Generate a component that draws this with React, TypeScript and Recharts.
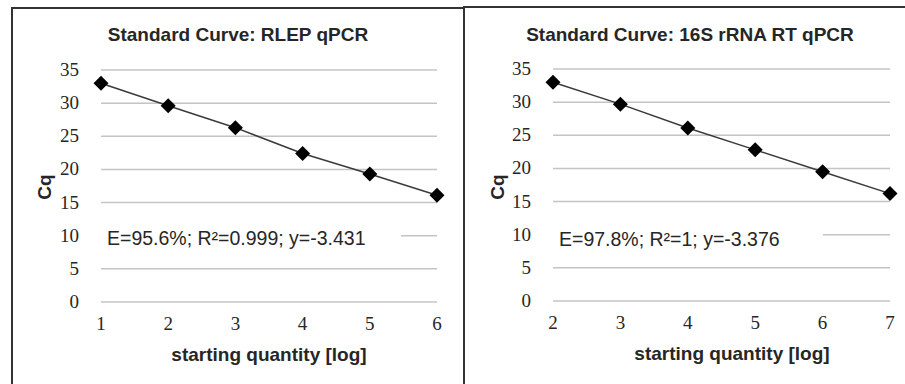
import React from 'react';
import { LineChart, Line, XAxis, YAxis, CartesianGrid } from 'recharts';

// RLEP qPCR standard curve
const rlepLog = [1, 2, 3, 4, 5, 6];
const rlepCq = [33.0, 29.6, 26.3, 22.4, 19.3, 16.1];

// 16S rRNA RT qPCR standard curve
const rrnaLog = [2, 3, 4, 5, 6, 7];
const rrnaCq = [33.0, 29.7, 26.1, 22.8, 19.5, 16.2];

const cqTicks = [0, 5, 10, 15, 20, 25, 30, 35];

const SANS = "Arial, 'Liberation Sans', sans-serif";
const SERIF = "'Liberation Serif', 'Times New Roman', serif";
const TEXT = '#262626';

const Diamond = (props: any) => {
  const { cx, cy, index } = props;
  if (cx == null || cy == null) return null;
  const r = 7.5;
  return (
    <polygon
      key={`d-${index}`}
      points={`${cx},${cy - r} ${cx + r},${cy} ${cx},${cy + r} ${cx - r},${cy}`}
      fill="#000"
    />
  );
};

const XTick = ({ x, y, payload }: any) => (
  <text x={x} y={y + 20} textAnchor="middle" style={{ fontFamily: SERIF, fontSize: 19, fill: TEXT }}>
    {payload.value}
  </text>
);

const YTick = ({ x, y, payload }: any) => (
  <text x={x - 14} y={y + 6} textAnchor="end" style={{ fontFamily: SERIF, fontSize: 19, fill: TEXT }}>
    {payload.value}
  </text>
);

interface CurveProps {
  xs: number[];
  ys: number[];
  left: number;
  width: number;
  margin: { top: number; right: number; left: number; bottom: number };
}

function Curve({ xs, ys, left, width, margin }: CurveProps) {
  const data = xs.map((x, i) => ({ x, cq: ys[i] }));
  return (
    <div style={{ position: 'absolute', left, top: 0 }}>
      <LineChart width={width} height={384} data={data} margin={margin}>
        <CartesianGrid vertical={false} stroke="#c4c4c4" strokeWidth={1.5} />
        <XAxis
          dataKey="x"
          type="number"
          domain={[xs[0], xs[xs.length - 1]]}
          ticks={xs}
          axisLine={false}
          tickLine={false}
          height={30}
          tick={<XTick />}
        />
        <YAxis
          type="number"
          domain={[0, 35]}
          ticks={cqTicks}
          axisLine={false}
          tickLine={false}
          width={50}
          tick={<YTick />}
        />
        <Line
          dataKey="cq"
          stroke="#3a3a3a"
          strokeWidth={1.5}
          dot={<Diamond />}
          activeDot={false}
          isAnimationActive={false}
        />
      </LineChart>
    </div>
  );
}

const label = (x: number, y: number, text: string, extra: React.CSSProperties = {}) => (
  <div
    style={{
      position: 'absolute',
      left: x,
      top: y,
      transform: 'translate(-50%, -50%)',
      whiteSpace: 'nowrap',
      fontFamily: SANS,
      fontWeight: 'bold',
      fontSize: 19,
      color: TEXT,
      ...extra,
    }}
  >
    {text}
  </div>
);

const legendBox = (x: number, y: number, w: number, text: string) => (
  <div
    style={{
      position: 'absolute',
      left: x,
      top: y,
      width: w,
      height: 22,
      background: '#fff',
      fontFamily: SANS,
      fontSize: 19.5,
      lineHeight: '22px',
      color: TEXT,
      paddingLeft: 6,
      boxSizing: 'border-box',
      whiteSpace: 'nowrap',
    }}
  >
    {text}
  </div>
);

export default function App() {
  return (
    <div
      style={{
        position: 'absolute',
        left: 0,
        top: 0,
        width: 905,
        height: 384,
        overflow: 'hidden',
        background: '#fff',
      }}
    >
      <Curve xs={rlepLog} ys={rlepCq} left={0} width={460} margin={{ top: 70, right: 23, left: 51, bottom: 52 }} />
      <Curve xs={rrnaLog} ys={rrnaCq} left={460} width={445} margin={{ top: 69, right: 15, left: 43, bottom: 53 }} />

      {legendBox(101, 227, 300, 'E=95.6%; R²=0.999; y=-3.431')}
      {legendBox(553, 228, 270, 'E=97.8%; R²=1; y=-3.376')}

      {label(238, 35, 'Standard Curve: RLEP qPCR')}
      {label(690, 35, 'Standard Curve: 16S rRNA RT qPCR')}
      {label(45, 187, 'Cq', { transform: 'translate(-50%, -50%) rotate(-90deg)' })}
      {label(498, 187, 'Cq', { transform: 'translate(-50%, -50%) rotate(-90deg)' })}
      {label(269, 355, 'starting quantity [log]')}
      {label(732, 354, 'starting quantity [log]')}

      <div
        style={{
          position: 'absolute',
          left: 11,
          top: 7,
          width: 454,
          height: 400,
          border: '2px solid #333',
          boxSizing: 'border-box',
        }}
      />
      <div
        style={{
          position: 'absolute',
          left: 463,
          top: 6,
          width: 460,
          height: 400,
          border: '2px solid #333',
          boxSizing: 'border-box',
        }}
      />
    </div>
  );
}
